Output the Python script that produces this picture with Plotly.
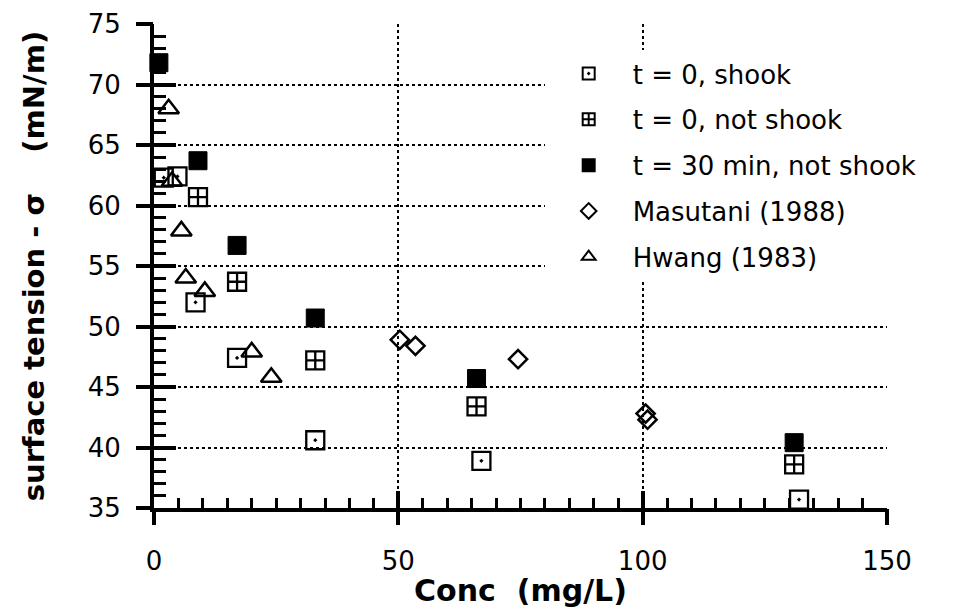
import plotly.graph_objects as go

# Surface tension vs. concentration, several measurement conditions
shook_x = [2, 4.8, 8.5, 17, 33, 67, 132]
shook_y = [62.3, 62.4, 52.0, 47.4, 40.6, 38.9, 35.7]

notshook_x = [9, 17, 33, 66, 131]
notshook_y = [60.7, 53.7, 47.2, 43.4, 38.6]

t30_x = [1, 9, 17, 33, 66, 131]
t30_y = [71.8, 63.7, 56.7, 50.7, 45.7, 40.4]

masutani_x = [50.3, 53.5, 74.5, 100.6, 101.0]
masutani_y = [48.9, 48.4, 47.3, 42.8, 42.3]

hwang_x = [3.0, 3.7, 5.6, 6.5, 10.4, 20.0, 24.0]
hwang_y = [68.0, 62.0, 57.9, 54.0, 52.9, 47.9, 45.8]

series_names = ["t = 0, shook", "t = 0, not shook", "t = 30 min, not shook",
                "Masutani (1988)", "Hwang (1983)"]

x_ticks = [0, 50, 100, 150]
y_ticks = [35, 40, 45, 50, 55, 60, 65, 70, 75]

FONT = "DejaVu Sans, Liberation Sans, Arial, sans-serif"
BLACK = "#000000"

fig = go.Figure()

styles = [
    (shook_x, shook_y, "square-open-dot", 18, 2.3),
    (notshook_x, notshook_y, "square-cross-open", 18, 2.3),
    (t30_x, t30_y, "square", 18, 1),
    (masutani_x, masutani_y, "diamond-open", 14, 2.5),
    (hwang_x, hwang_y, "triangle-up-open", 18, 2.5),
]

for i, (xs, ys, sym, size, lw) in enumerate(styles):
    fig.add_trace(go.Scatter(
        x=xs, y=ys, mode="markers", name=series_names[i],
        legendgroup=f"g{i}",
        marker=dict(symbol=sym, size=size, color=BLACK,
                    line=dict(color=BLACK, width=lw)),
        cliponaxis=False,
    ))

# empty trace on the overlay axes that carry the outer half of the major ticks
fig.add_trace(go.Scatter(x=[], y=[], xaxis="x2", yaxis="y2", showlegend=False,
                         hoverinfo="skip"))

axis_common = dict(
    showline=True, linecolor=BLACK, linewidth=4,
    showgrid=True, gridcolor=BLACK, gridwidth=1.5, griddash="dot",
    zeroline=False, ticks="inside", tickcolor=BLACK, tickwidth=4,
    tickfont=dict(family=FONT, size=26, color=BLACK),
    automargin=False,
)

fig.update_layout(
    width=969, height=608,
    margin=dict(l=154, r=82, t=24, b=100),
    paper_bgcolor="white", plot_bgcolor="white",
    showlegend=True,
    legend=dict(
        x=0.533, y=0.946, xanchor="left", yanchor="top",
        bgcolor="white", borderwidth=0,
        font=dict(family=FONT, size=26, color=BLACK),
        itemsizing="constant", itemwidth=78, tracegroupgap=9,
    ),
    xaxis=dict(
        range=[0, 150], tickvals=x_ticks, ticklen=17,
        minor=dict(dtick=5, ticks="inside", ticklen=10, tickwidth=3,
                   tickcolor=BLACK, showgrid=False),
        ticklabelstandoff=27,
        title=dict(text="<b>Conc  (mg/L)</b>", standoff=12,
                   font=dict(family=FONT, size=30, color=BLACK)),
        **axis_common,
    ),
    yaxis=dict(
        range=[35, 75], tickvals=y_ticks, ticklen=22,
        minor=dict(dtick=1, ticks="inside", ticklen=12, tickwidth=3,
                   tickcolor=BLACK, showgrid=False),
        ticklabelstandoff=24,
        title=dict(text="<b>surface tension - σ\u00a0\u00a0\u00a0\u00a0(mN/m)</b>",
                   standoff=36,
                   font=dict(family=FONT, size=29, color=BLACK)),
        **axis_common,
    ),
    xaxis2=dict(
        overlaying="x", anchor="y", side="bottom", range=[0, 150],
        tickvals=x_ticks, ticks="outside", ticklen=16, tickwidth=4,
        tickcolor=BLACK, showticklabels=False, showgrid=False,
        showline=False, zeroline=False, automargin=False,
    ),
    yaxis2=dict(
        overlaying="y", anchor="x", side="left", range=[35, 75],
        tickvals=y_ticks, ticks="outside", ticklen=17, tickwidth=4,
        tickcolor=BLACK, showticklabels=False, showgrid=False,
        showline=False, zeroline=False, automargin=False,
    ),
)

fig.write_html("out.html")
